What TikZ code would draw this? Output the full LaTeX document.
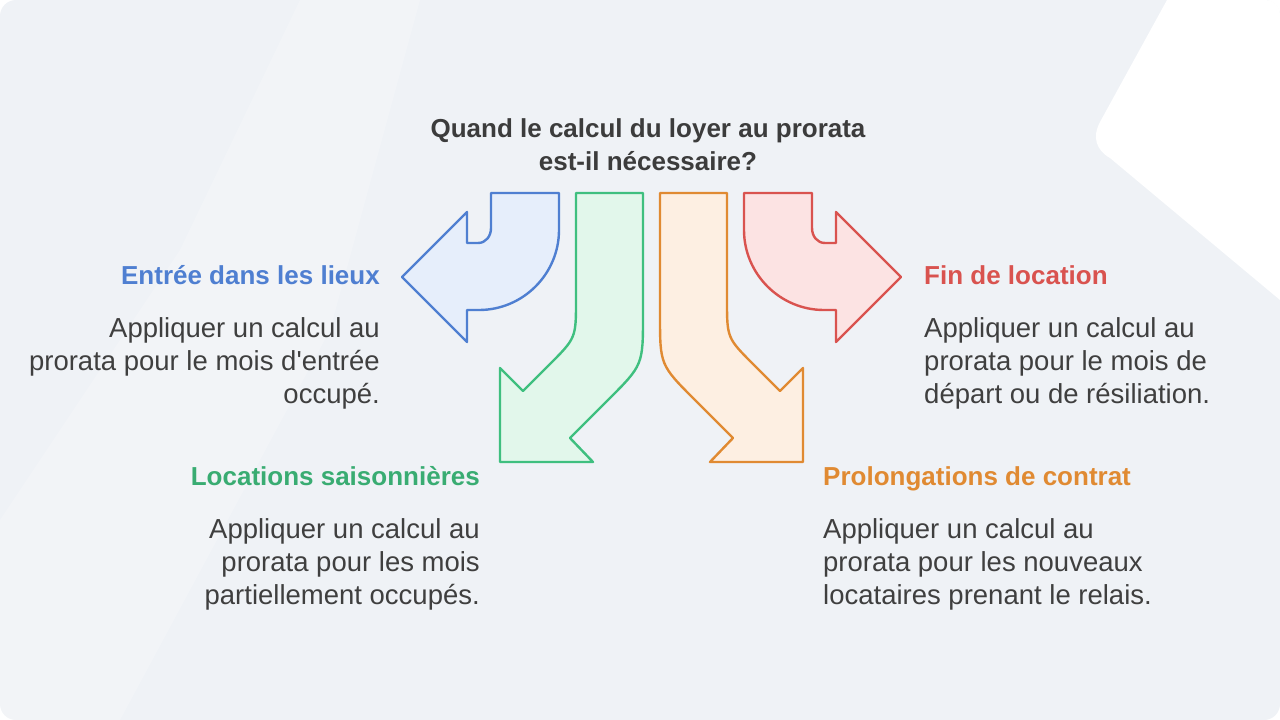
\documentclass[tikz,border=0pt]{standalone}
\usepackage{fontspec}
\setmainfont{Liberation Sans}
\usepackage{tikz, xcolor}
\usetikzlibrary{calc}

\definecolor{bgcol}{HTML}{EFF2F6}
\definecolor{txtcol}{HTML}{3F3F3F}
\definecolor{bluedk}{HTML}{4F7FD1}
\definecolor{bluelt}{HTML}{E6EEFB}
\definecolor{greendk}{HTML}{3FBF7F}
\definecolor{greenlt}{HTML}{E2F7EB}
\definecolor{orangedk}{HTML}{E08A32}
\definecolor{orangelt}{HTML}{FDEFE2}
\definecolor{reddk}{HTML}{D9534F}
\definecolor{redlt}{HTML}{FCE3E3}

\begin{document}
\begin{tikzpicture}[x=1pt,y=-1pt,
  bendarrow/.style={line width=2.4pt,line join=round},
  head/.style={inner sep=0pt,font=\fontsize{26}{32}\selectfont\bfseries},
  body/.style={inner sep=0pt,text=txtcol,font=\fontsize{27.5}{33}\selectfont}]
\useasboundingbox (0,0) rectangle (1280,720);
% background
\fill[bgcol,rounded corners=16pt] (0,0) rectangle (1280,720);
\fill[white] (1167,0) -- (1100,122) .. controls (1092,137) and (1096,150) .. (1110,158) -- (1280,300) -- (1280,16) .. controls (1280,6) and (1274,0) .. (1264,0) -- cycle;
\fill[white,opacity=0.2] (300,0) -- (180,250) -- (0,520) -- (0,720) -- (120,720) -- (330,330) -- (420,0) -- cycle;

% last line sits on the given baseline
\node[text=txtcol!95!black,align=center,anchor=base,inner sep=0pt,font=\fontsize{26}{33}\selectfont\bfseries] (question) at (648,170) {Quand le calcul du loyer au prorata\\est-il nécessaire?};

% arrows
\draw[bendarrow,draw=bluedk,fill=bluelt] (491,193) -- (559,193) -- (559,230) .. controls (559,274) and (523,310) .. (479,310) -- (467,310) -- (467,342) -- (402,277) -- (467,212) -- (467,243) -- (478,243) .. controls (486,243) and (491,236) .. (491,228) -- cycle;
\draw[bendarrow,draw=greendk,fill=greenlt] (576,193) -- (643,193) -- (643,315) .. controls (643,365) .. (608,400) -- (570,438) -- (593,462) -- (500,462) -- (500,368) -- (523,391) -- (549,365) .. controls (576,338) .. (576,300) -- cycle;
\draw[bendarrow,draw=orangedk,fill=orangelt] (727,193) -- (660,193) -- (660,315) .. controls (660,365) .. (695,400) -- (733,438) -- (710,462) -- (803,462) -- (803,368) -- (780,391) -- (754,365) .. controls (727,338) .. (727,300) -- cycle;
\draw[bendarrow,draw=reddk,fill=redlt] (812,193) -- (744,193) -- (744,230) .. controls (744,274) and (780,310) .. (824,310) -- (836,310) -- (836,342) -- (901,277) -- (836,212) -- (836,243) -- (825,243) .. controls (817,243) and (812,236) .. (812,228) -- cycle;

% labels
\node[head,text=bluedk,anchor=base east] (entree) at (380,284) {Entrée dans les lieux};
\node[body,align=right,anchor=base east] (entreetxt) at (380,403) {Appliquer un calcul au\\prorata pour le mois d\textquotesingle entrée\\occupé.};
\node[head,text=greendk!90!black,anchor=base east] (saison) at (480,485) {Locations saisonnières};
\node[body,align=right,anchor=base east] (saisontxt) at (480,604) {Appliquer un calcul au\\prorata pour les mois\\partiellement occupés.};
\node[head,text=reddk,anchor=base west] (fin) at (924,284) {Fin de location};
\node[body,align=left,anchor=base west] (fintxt) at (924,403) {Appliquer un calcul au\\prorata pour le mois de\\départ ou de résiliation.};
\node[head,text=orangedk,anchor=base west] (prolong) at (823,485) {Prolongations de contrat};
\node[body,align=left,anchor=base west] (prolongtxt) at (823,604) {Appliquer un calcul au\\prorata pour les nouveaux\\locataires prenant le relais.};
\end{tikzpicture}
\end{document}
